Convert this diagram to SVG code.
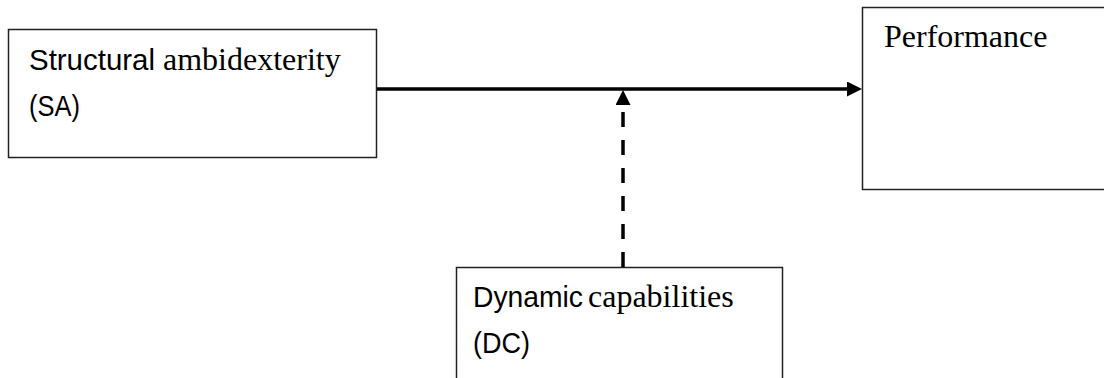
<svg xmlns="http://www.w3.org/2000/svg" width="1104" height="378" viewBox="0 0 1104 378">
<style>
.box{fill:#fff;stroke:#222;stroke-width:1.5}
.sans{font-family:"Liberation Sans",Arial,sans-serif;font-size:30px;fill:#000}
.serif{font-family:"Liberation Serif","Times New Roman",serif;font-size:32px;fill:#000}
.conn{fill:none;stroke:#000;stroke-width:3.5}
.dash{stroke-dasharray:15 13}
</style>
<defs>
<marker id="arrow" markerUnits="userSpaceOnUse" viewBox="0 0 15 15" refX="0" refY="7.5" markerWidth="15" markerHeight="15" orient="auto">
<path d="M0,0 L15,7.5 L0,15 Z" fill="#000"/>
</marker>
</defs>
<g id="node-sa">
<rect class="box" x="8.5" y="29.5" width="368" height="128"/>
<text y="70"><tspan class="sans" x="29" textLength="126" lengthAdjust="spacingAndGlyphs">Structural</tspan><tspan class="serif" x="163">ambidexterity</tspan></text>
<text class="sans" x="29" y="116" textLength="51" lengthAdjust="spacingAndGlyphs">(SA)</text>
</g>
<g id="node-performance">
<rect class="box" x="862.5" y="7.5" width="260" height="182"/>
<text class="serif" x="884" y="47">Performance</text>
</g>
<g id="node-dc">
<rect class="box" x="456.5" y="267.5" width="326" height="130"/>
<text y="307"><tspan class="sans" x="473" textLength="110" lengthAdjust="spacingAndGlyphs">Dynamic</tspan><tspan class="serif" x="588">capabilities</tspan></text>
<text class="sans" x="473" y="353" textLength="57" lengthAdjust="spacingAndGlyphs">(DC)</text>
</g>
<g id="connectors">
<path class="conn" d="M377,89 H847" marker-end="url(#arrow)"/>
<path class="conn dash" d="M623,267 V105" marker-end="url(#arrow)"/>
</g>
</svg>
